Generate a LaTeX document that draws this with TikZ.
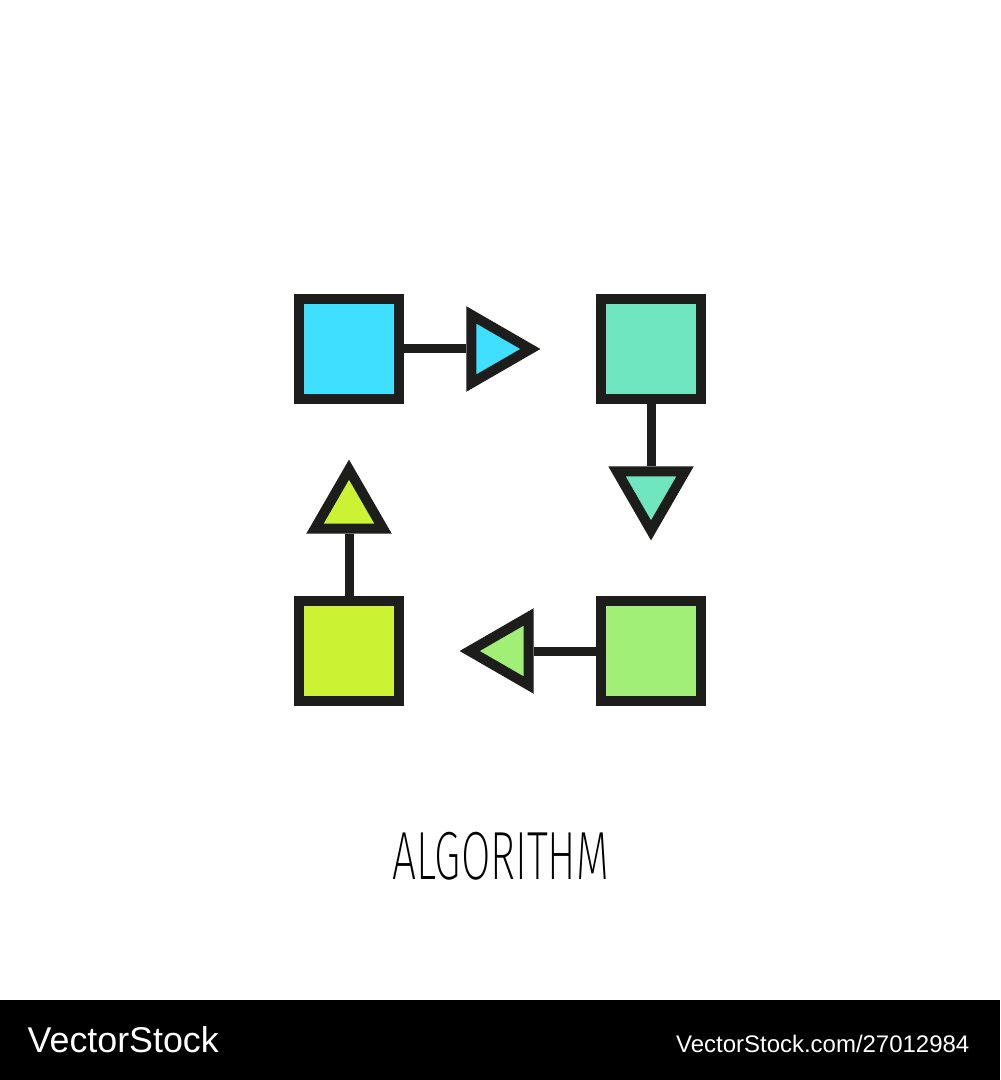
\documentclass[tikz,border=0pt]{standalone}
\usepackage{fontspec}
\usetikzlibrary{shapes.geometric}
\setmainfont{Liberation Sans}
\newfontfamily\algfont{Fira Sans ExtraLight}
\definecolor{ink}{HTML}{1D1D1B}
\definecolor{cyanC}{HTML}{3FDFFF}
\definecolor{tealC}{HTML}{6FE6BF}
\definecolor{greenC}{HTML}{A2EF78}
\definecolor{limeC}{HTML}{CCF234}
\begin{document}
\begin{tikzpicture}[x=0.01cm,y=-0.01cm,
  box/.style={draw=ink,line width=1mm,rectangle,minimum size=1cm,inner sep=0pt,line join=miter},
  tri/.style={draw=ink,line width=1mm,regular polygon,regular polygon sides=3,minimum size=0.787cm,inner sep=0pt,line join=miter},
  link/.style={draw=ink,line width=0.9mm},
  wtext/.style={text=white,inner sep=0pt}]
\useasboundingbox (0,0) rectangle (1000,1080);
\fill[white] (0,0) rectangle (1000,1000);
\fill[black] (0,1000) rectangle (1000,1080);
% squares
\node[box,fill=cyanC] (s1) at (349,349) {};
\node[box,fill=tealC] (s2) at (651,349) {};
\node[box,fill=greenC] (s3) at (651,651) {};
\node[box,fill=limeC] (s4) at (349,651) {};
% triangles
\node[tri,fill=cyanC,regular polygon rotate=-90] (t1) at (491,349) {};
\node[tri,fill=tealC,regular polygon rotate=180] (t2) at (651,491) {};
\node[tri,fill=greenC,regular polygon rotate=90] (t3) at (509,651) {};
\node[tri,fill=limeC] (t4) at (349,509) {};
% connectors
\draw[link] (s1.east) -- (t1.side 2);
\draw[link] (s2.south) -- (t2.side 2);
\draw[link] (s3.west) -- (t3.side 2);
\draw[link] (s4.north) -- (t4.side 2);
% label
\node[inner sep=0pt,text=black] (lbl) at (501,856) {\resizebox*{21.6mm}{4.8mm}{\algfont ALGORITHM}};
% footer
\node[wtext,anchor=base west] (brand) at (27,1052) {\resizebox{19.1mm}{!}{VectorStock}};
\node[wtext,anchor=base east] (url) at (970,1052) {\resizebox{29.3mm}{!}{VectorStock.com/27012984}};
\end{tikzpicture}
\end{document}
